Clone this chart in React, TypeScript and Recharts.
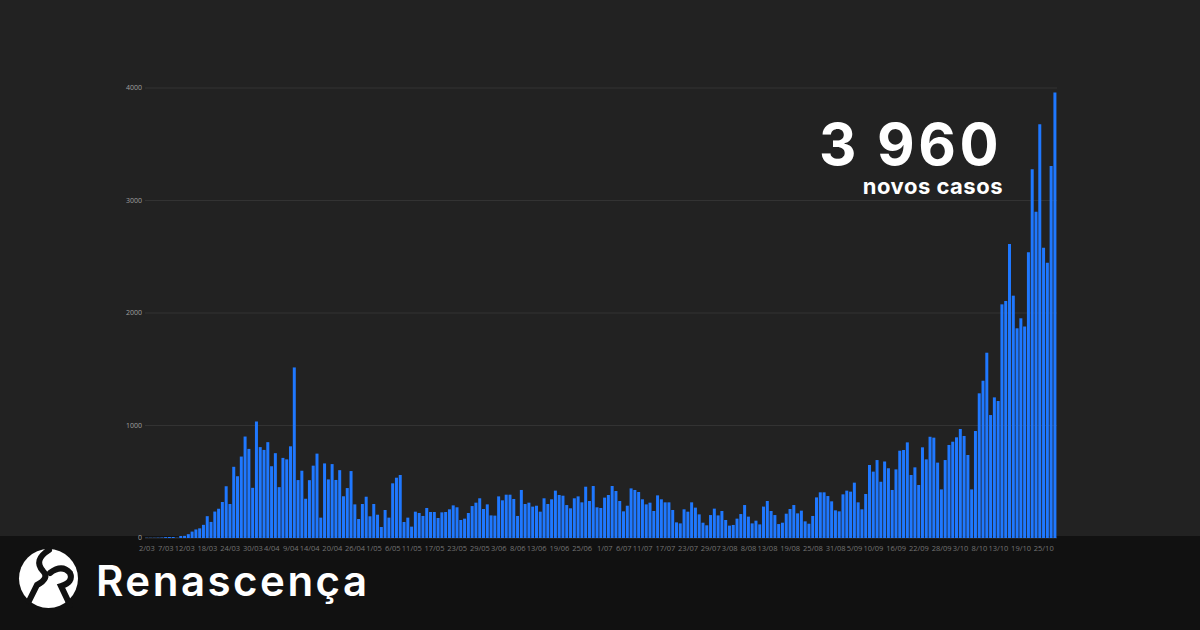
import React from "react";
import { BarChart, Bar, XAxis, YAxis, CartesianGrid } from "recharts";

// daily new cases, 2/03 -> 28/10
const march = [2, 2, 2, 3, 4, 8, 9, 9, 2, 18, 19, 34, 57, 76, 86, 117, 194, 143, 235, 260, 320, 460, 302, 633, 549, 724, 902, 792, 446, 1035];
const april = [808, 783, 852, 638, 754, 452, 712, 699, 815, 1516, 515, 598, 349, 514, 643, 750, 181, 663, 521, 657, 516, 603, 371, 444, 595, 299, 169, 302, 367, 193];
const may = [302, 207, 98, 249, 181, 486, 536, 560, 142, 181, 101, 234, 222, 196, 267, 231, 231, 178, 228, 231, 255, 290, 273, 160, 172, 222, 284, 314, 353, 258, 299];
const june = [201, 199, 370, 335, 385, 385, 347, 196, 427, 302, 314, 279, 287, 234, 353, 302, 344, 421, 382, 376, 293, 264, 353, 370, 317, 456, 329, 462, 273, 267];
const july = [359, 382, 462, 418, 329, 237, 287, 441, 427, 409, 344, 299, 314, 240, 379, 344, 317, 317, 249, 139, 130, 255, 234, 317, 270, 210, 136, 113, 204, 261, 201];
const august = [240, 160, 110, 116, 172, 213, 293, 190, 130, 154, 121, 279, 329, 240, 204, 124, 136, 216, 258, 293, 219, 243, 148, 127, 196, 361, 406, 406, 373, 326, 246];
const september = [237, 388, 421, 412, 492, 317, 255, 391, 649, 590, 693, 500, 680, 620, 427, 610, 776, 782, 850, 560, 628, 471, 806, 699, 900, 892, 670, 432, 693, 827];
const october = [856, 895, 969, 907, 738, 432, 951, 1286, 1398, 1647, 1093, 1250, 1218, 2077, 2107, 2613, 2154, 1864, 1953, 1879, 2539, 3277, 2901, 3677, 2581, 2447, 3307, 3960];

const months = [
  { m: "03", first: 2, values: march },
  { m: "04", first: 1, values: april },
  { m: "05", first: 1, values: may },
  { m: "06", first: 1, values: june },
  { m: "07", first: 1, values: july },
  { m: "08", first: 1, values: august },
  { m: "09", first: 1, values: september },
  { m: "10", first: 1, values: october },
];

const tickLabels = [
  "2/03", "7/03", "12/03", "18/03", "24/03", "30/03", "4/04", "9/04", "14/04", "20/04", "26/04",
  "1/05", "6/05", "11/05", "17/05", "23/05", "29/05", "3/06", "8/06", "13/06", "19/06", "25/06",
  "1/07", "6/07", "11/07", "17/07", "23/07", "29/07", "3/08", "8/08", "13/08", "19/08", "25/08",
  "31/08", "5/09", "10/09", "16/09", "22/09", "28/09", "3/10", "8/10", "13/10", "19/10", "25/10",
];

const yTicks = [0, 1000, 2000, 3000, 4000];

const data = months.flatMap(({ m, first, values }) =>
  values.map((v, i) => ({ date: `${first + i}/${m}`, cases: v }))
);

export default function App() {
  return (
    <div
      style={{
        position: "absolute",
        left: 0,
        top: 0,
        width: 1200,
        height: 630,
        background: "#222222",
        overflow: "hidden",
        fontFamily: "'Open Sans', sans-serif",
      }}
    >
      <div style={{ position: "absolute", left: 0, top: 536, width: 1200, height: 94, background: "#111111" }} />
      <div style={{ position: "absolute", left: 0, top: 0 }}>
        <BarChart
          width={1200}
          height={630}
          data={data}
          margin={{ top: 88, right: 143, left: 0, bottom: 72 }}
          barCategoryGap={0.2}
        >
          <CartesianGrid vertical={false} stroke="#333333" />
          <XAxis
            dataKey="date"
            ticks={tickLabels}
            interval={0}
            tickLine={false}
            axisLine={false}
            height={20}
            tick={{ fill: "#747474", fontSize: 7.5 }}
          />
          <YAxis
            domain={[0, 4000]}
            ticks={yTicks}
            width={145}
            tickLine={false}
            axisLine={false}
            tickSize={0}
            tickMargin={3}
            tick={{ fill: "#a0a0a0", fontSize: 7 }}
          />
          <Bar dataKey="cases" fill="#1f78ff" isAnimationActive={false} />
        </BarChart>
      </div>
      <svg
        width={1200}
        height={630}
        style={{ position: "absolute", left: 0, top: 0, pointerEvents: "none" }}
      >
        <text
          x={1002}
          y={165}
          textAnchor="end"
          fill="#ffffff"
          style={{ fontFamily: "Inter, sans-serif", fontWeight: 700, fontSize: 58, letterSpacing: 3.5 }}
        >
          3 960
        </text>
        <text
          x={1003}
          y={194}
          textAnchor="end"
          fill="#ffffff"
          style={{ fontFamily: "Inter, sans-serif", fontWeight: 700, fontSize: 22, letterSpacing: 0.5 }}
        >
          novos casos
        </text>

        {/* logo */}
        <circle cx={48.5} cy={578.5} r={29.5} fill="#ffffff" />
        <path
          d="M49 550 Q33 560 43 571 Q50 578 37 585 L29 601"
          stroke="#111111"
          strokeWidth={6}
          fill="none"
          strokeLinecap="round"
        />
        <path
          d="M50 573 Q62 564 70 573 Q74 582 61 586 L70 605"
          stroke="#111111"
          strokeWidth={6}
          fill="none"
          strokeLinecap="round"
        />
        <text
          x={96}
          y={596}
          fill="#ffffff"
          style={{ fontFamily: "Inter, sans-serif", fontWeight: 600, fontSize: 42, letterSpacing: 2.5 }}
        >
          Renascença
        </text>
      </svg>
    </div>
  );
}
